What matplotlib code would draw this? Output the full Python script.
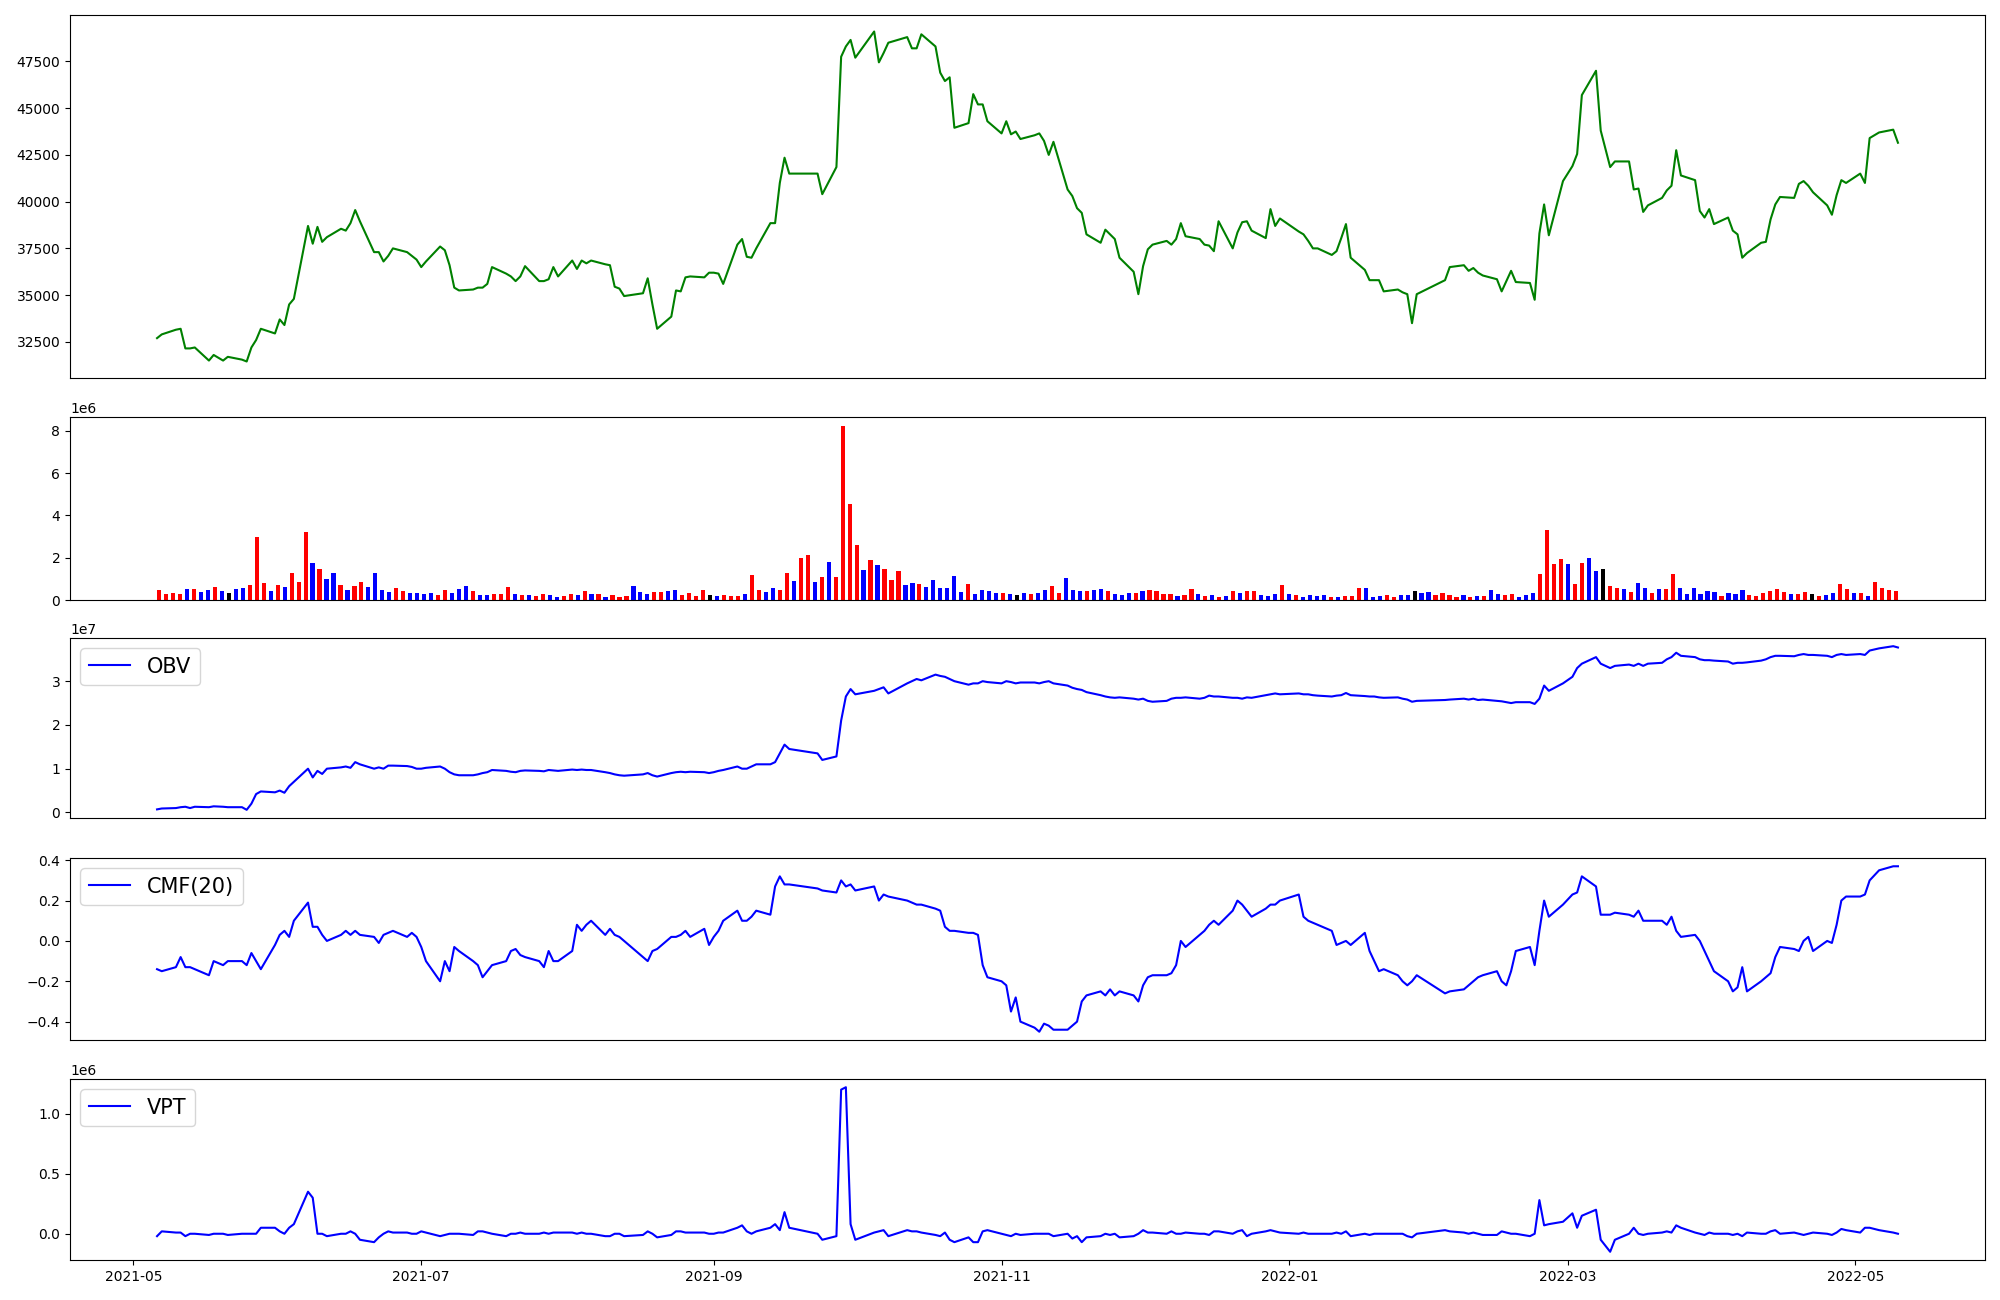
import pandas as pd
import numpy as np
import matplotlib
matplotlib.use('Agg')
import matplotlib.pyplot as plt

# trading days (KRX calendar)
holidays = ['2021-05-19', '2021-08-16', '2021-09-20', '2021-09-21', '2021-09-22',
            '2021-10-04', '2021-10-11', '2021-12-31', '2022-01-31', '2022-02-01',
            '2022-02-02', '2022-03-01', '2022-03-09', '2022-05-05']
dates = pd.bdate_range('2021-05-06', '2022-05-10')
dates = dates[~dates.isin(pd.to_datetime(holidays))]

close = (
    # 2021-05
    [32700, 32900, 33150, 33200, 32150, 32150, 32200, 31500, 31800, 31500, 31700, 31550, 31450, 32200, 32600, 33200, 32950]
    # 2021-06
    + [33700, 33400, 34500, 34800, 38700, 37750, 38650, 37850, 38100, 38550, 38450, 38850, 39550, 38950, 37300, 37300, 36800, 37100, 37500, 37300, 37100, 36900]
    # 2021-07
    + [36500, 36800, 37600, 37400, 36600, 35400, 35250, 35300, 35400, 35400, 35600, 36500, 36150, 36000, 35750, 36000, 36550, 35750, 35750, 35850, 36500, 36000]
    # 2021-08
    + [36850, 36400, 36850, 36700, 36850, 36650, 36600, 35450, 35350, 34950, 35100, 35900, 34500, 33200, 33850, 35250, 35200, 35950, 36000, 35950, 36200]
    # 2021-09
    + [36200, 36150, 35600, 37700, 38000, 37050, 37000, 37500, 38850, 38850, 41000, 42350, 41500, 41500, 40400, 41850, 47750, 48300, 48650]
    # 2021-10
    + [47700, 49100, 47450, 47950, 48500, 48800, 48200, 48200, 48950, 48300, 46900, 46450, 46650, 43950, 44200, 45750, 45200, 45200, 44300]
    # 2021-11
    + [43650, 44300, 43600, 43750, 43350, 43550, 43650, 43250, 42500, 43200, 40650, 40300, 39650, 39400, 38250, 37800, 38500, 38250, 38000, 37000, 36250, 35050]
    # 2021-12
    + [36550, 37450, 37700, 37900, 37700, 38000, 38850, 38150, 38000, 37700, 37650, 37350, 38950, 37500, 38350, 38900, 38950, 38450, 38050, 39600, 38700, 39100]
    # 2022-01
    + [38400, 38250, 37900, 37500, 37500, 37150, 37350, 38050, 38800, 37000, 36350, 35800, 35800, 35800, 35200, 35300, 35150, 35050, 33500, 35050]
    # 2022-02
    + [35800, 36500, 36600, 36300, 36450, 36200, 36050, 35850, 35200, 35750, 36300, 35700, 35650, 34750, 38300, 39850, 38200, 41100]
    # 2022-03
    + [41900, 42550, 45700, 47000, 43800, 41850, 42150, 42150, 40650, 40700, 39450, 39800, 40200, 40600, 40850, 42750, 41400, 41150, 39500, 39150, 39600]
    # 2022-04
    + [38800, 39150, 38450, 38250, 37000, 37250, 37800, 37850, 39050, 39850, 40250, 40200, 40950, 41100, 40850, 40500, 39800, 39300, 40350, 41150, 41000]
    # 2022-05
    + [41500, 41000, 43400, 43700, 43850, 43150]
)

volume = [  # millions of shares
    0.48, 0.29, 0.33, 0.29, 0.52, 0.52, 0.38, 0.48, 0.62, 0.43,
    0.33, 0.52, 0.57, 0.72, 2.96, 0.81, 0.43, 0.72, 0.62, 1.29,
    0.86, 3.20, 1.76, 1.48, 1.00, 1.29, 0.72, 0.48, 0.67, 0.86,
    0.62, 1.29, 0.48, 0.38, 0.57, 0.43, 0.33, 0.33, 0.29, 0.33,
    0.24, 0.48, 0.33, 0.52, 0.67, 0.43, 0.24, 0.24, 0.29, 0.29,
    0.62, 0.29, 0.24, 0.24, 0.19, 0.29, 0.24, 0.14, 0.19, 0.29,
    0.24, 0.43, 0.29, 0.29, 0.14, 0.24, 0.14, 0.19, 0.67, 0.38,
    0.29, 0.38, 0.38, 0.43, 0.48, 0.24, 0.33, 0.19, 0.48, 0.24,
    0.19, 0.24, 0.19, 0.19, 0.29, 1.19, 0.48, 0.38, 0.57, 0.48,
    1.29, 0.91, 2.00, 2.15, 0.86, 1.10, 1.81, 1.10, 8.25, 4.53,
    2.58, 1.43, 1.91, 1.67, 1.48, 0.95, 1.38, 0.72, 0.81, 0.76,
    0.62, 0.95, 0.57, 0.57, 1.14, 0.38, 0.76, 0.29, 0.48, 0.43,
    0.33, 0.33, 0.29, 0.24, 0.33, 0.29, 0.33, 0.48, 0.67, 0.33,
    1.05, 0.48, 0.43, 0.43, 0.48, 0.52, 0.43, 0.29, 0.24, 0.33,
    0.33, 0.43, 0.48, 0.43, 0.29, 0.29, 0.19, 0.24, 0.52, 0.29,
    0.19, 0.24, 0.14, 0.19, 0.43, 0.33, 0.43, 0.43, 0.24, 0.19,
    0.29, 0.72, 0.29, 0.24, 0.14, 0.24, 0.19, 0.24, 0.14, 0.14,
    0.19, 0.19, 0.57, 0.57, 0.14, 0.19, 0.24, 0.14, 0.24, 0.24,
    0.43, 0.33, 0.38, 0.24, 0.33, 0.24, 0.14, 0.24, 0.14, 0.19,
    0.19, 0.48, 0.29, 0.24, 0.29, 0.14, 0.24, 0.33, 1.24, 3.29,
    1.72, 1.96, 1.72, 0.76, 1.76, 2.00, 1.38, 1.48, 0.67, 0.57,
    0.52, 0.38, 0.81, 0.57, 0.33, 0.52, 0.52, 1.24, 0.57, 0.29,
    0.57, 0.29, 0.43, 0.38, 0.19, 0.33, 0.29, 0.48, 0.24, 0.19,
    0.33, 0.43, 0.52, 0.38, 0.29, 0.29, 0.38, 0.29, 0.19, 0.24,
    0.33, 0.76, 0.52, 0.33, 0.33, 0.19, 0.86, 0.57, 0.48, 0.43,
]

# candle direction of each day: r = up, b = down, k = flat
direction = ('rrrrbrbbrb' 'kbbrrrbrbr' 'rrbrbbrbrr' 'bbbbrrbbbb' 'rrbbbrbbrr'
             'rbrbrrbbrr' 'brbrbrrrbb' 'brrbbrrrrk' 'brrrbrrbbr' 'rbrrbrbrrr'
             'rbrbrrrbbr' 'bbbbbbrbbb' 'brbkbrbbrr' 'bbbrbbrbbb' 'rbrrrrbrrb'
             'rbrbrbrrbb' 'brbrbbbbrb' 'rrrbbbrrbb' 'kbbrrrrbrb' 'rbbrrbbbrr'
             'rrbrrbbkrr' 'brbbrbrrbb' 'bbbbrbbbrr' 'rrrrbrrkrb' 'brrbrbrrrr')

obv = (  # x 1e7
    [0.07, 0.09, 0.1, 0.12, 0.13, 0.1, 0.13, 0.12, 0.14, 0.13, 0.12, 0.12, 0.06, 0.2, 0.42, 0.48, 0.46]
    + [0.5, 0.45, 0.6, 0.7, 1.0, 0.8, 0.95, 0.88, 1.0, 1.03, 1.05, 1.02, 1.15, 1.1, 1.0, 1.03, 1.0, 1.07, 1.07, 1.06, 1.04, 1.0]
    + [1.0, 1.02, 1.05, 1.0, 0.92, 0.87, 0.85, 0.85, 0.87, 0.9, 0.92, 0.97, 0.95, 0.93, 0.92, 0.95, 0.96, 0.95, 0.94, 0.97, 0.96, 0.95]
    + [0.98, 0.97, 0.98, 0.97, 0.97, 0.92, 0.9, 0.87, 0.85, 0.84, 0.87, 0.9, 0.85, 0.82, 0.9, 0.92, 0.93, 0.92, 0.93, 0.92, 0.9]
    + [0.92, 0.95, 0.97, 1.05, 1.0, 1.0, 1.05, 1.1, 1.1, 1.15, 1.35, 1.55, 1.45, 1.35, 1.2, 1.28, 2.1, 2.65, 2.82]
    + [2.7, 2.78, 2.82, 2.86, 2.72, 2.95, 3.0, 3.05, 3.02, 3.15, 3.12, 3.1, 3.05, 3.0, 2.92, 2.95, 2.95, 3.0, 2.98]
    + [2.95, 3.0, 2.98, 2.95, 2.97, 2.97, 2.95, 2.98, 3.0, 2.95, 2.9, 2.85, 2.82, 2.8, 2.75, 2.68, 2.65, 2.63, 2.62, 2.63, 2.6, 2.58]
    + [2.6, 2.55, 2.53, 2.55, 2.6, 2.62, 2.62, 2.63, 2.6, 2.62, 2.67, 2.65, 2.65, 2.62, 2.62, 2.6, 2.63, 2.62, 2.68, 2.7, 2.72, 2.7]
    + [2.72, 2.7, 2.7, 2.68, 2.67, 2.65, 2.67, 2.68, 2.73, 2.68, 2.66, 2.65, 2.65, 2.63, 2.62, 2.63, 2.6, 2.58, 2.53, 2.55]
    + [2.57, 2.58, 2.6, 2.58, 2.6, 2.57, 2.58, 2.55, 2.54, 2.52, 2.5, 2.52, 2.52, 2.48, 2.6, 2.9, 2.78, 2.95]
    + [3.1, 3.3, 3.4, 3.55, 3.4, 3.3, 3.35, 3.38, 3.35, 3.4, 3.35, 3.4, 3.42, 3.5, 3.55, 3.65, 3.58, 3.55, 3.5, 3.48, 3.48]
    + [3.47, 3.45, 3.4, 3.42, 3.42, 3.43, 3.47, 3.5, 3.55, 3.58, 3.58, 3.57, 3.6, 3.62, 3.6, 3.6, 3.58, 3.55, 3.6, 3.62, 3.6]
    + [3.62, 3.6, 3.7, 3.75, 3.8, 3.77]
)

cmf = (
    [-0.14, -0.15, -0.13, -0.08, -0.13, -0.13, -0.14, -0.17, -0.10, -0.12, -0.10, -0.10, -0.12, -0.06, -0.10, -0.14, -0.02]
    + [0.03, 0.05, 0.02, 0.10, 0.19, 0.07, 0.07, 0.03, 0.0, 0.03, 0.05, 0.03, 0.05, 0.03, 0.02, -0.01, 0.03, 0.04, 0.05, 0.02, 0.04, 0.02]
    + [-0.03, -0.1, -0.2, -0.1, -0.15, -0.03, -0.05, -0.1, -0.12, -0.18, -0.15, -0.12, -0.1, -0.05, -0.04, -0.07, -0.08, -0.1, -0.13, -0.05, -0.1, -0.1]
    + [-0.05, 0.08, 0.05, 0.08, 0.1, 0.03, 0.06, 0.03, 0.02, 0.0, -0.08, -0.1, -0.05, -0.04, 0.02, 0.02, 0.03, 0.05, 0.02, 0.06, -0.02]
    + [0.02, 0.05, 0.1, 0.15, 0.1, 0.1, 0.12, 0.15, 0.13, 0.27, 0.32, 0.28, 0.28, 0.26, 0.25, 0.24, 0.3, 0.27, 0.28]
    + [0.25, 0.27, 0.2, 0.23, 0.22, 0.2, 0.19, 0.18, 0.18, 0.16, 0.15, 0.07, 0.05, 0.05, 0.04, 0.04, 0.03, -0.12, -0.18]
    + [-0.2, -0.22, -0.35, -0.28, -0.4, -0.43, -0.45, -0.41, -0.42, -0.44, -0.44, -0.42, -0.4, -0.3, -0.27, -0.25, -0.27, -0.24, -0.27, -0.25, -0.27, -0.3]
    + [-0.22, -0.18, -0.17, -0.17, -0.16, -0.12, 0.0, -0.03, 0.03, 0.05, 0.08, 0.1, 0.08, 0.15, 0.2, 0.18, 0.15, 0.12, 0.16, 0.18, 0.18, 0.2]
    + [0.23, 0.12, 0.1, 0.09, 0.08, 0.05, -0.02, -0.01, 0.0, -0.02, 0.04, -0.05, -0.1, -0.15, -0.14, -0.17, -0.2, -0.22, -0.2, -0.17]
    + [-0.26, -0.25, -0.24, -0.22, -0.2, -0.18, -0.17, -0.15, -0.2, -0.22, -0.15, -0.05, -0.03, -0.12, 0.05, 0.2, 0.12, 0.18]
    + [0.23, 0.24, 0.32, 0.27, 0.13, 0.13, 0.14, 0.13, 0.12, 0.15, 0.1, 0.1, 0.1, 0.08, 0.12, 0.05, 0.02, 0.03, 0.0, -0.05, -0.1]
    + [-0.15, -0.2, -0.25, -0.23, -0.13, -0.25, -0.2, -0.18, -0.16, -0.08, -0.03, -0.04, -0.05, 0.0, 0.02, -0.05, 0.0, -0.01, 0.08, 0.2, 0.22]
    + [0.22, 0.23, 0.3, 0.35, 0.37, 0.37]
)

vpt = (  # x 1e6
    [-0.02, 0.02, 0.01, 0.01, -0.02, 0.0, 0.0, -0.01, 0.0, 0.0, -0.01, 0.0, 0.0, 0.0, 0.0, 0.05, 0.05]
    + [0.02, 0.0, 0.05, 0.08, 0.35, 0.3, 0.0, 0.0, -0.02, 0.0, 0.0, 0.02, 0.0, -0.05, -0.07, -0.03, 0.0, 0.02, 0.01, 0.01, 0.0, 0.0]
    + [0.02, 0.01, -0.02, -0.01, 0.0, 0.0, 0.0, -0.01, 0.02, 0.02, 0.01, 0.0, -0.02, 0.0, 0.0, 0.01, 0.0, 0.0, 0.01, 0.0, 0.01, 0.01]
    + [0.01, 0.0, 0.01, 0.0, 0.0, -0.02, -0.02, 0.0, 0.0, -0.02, -0.01, 0.02, 0.0, -0.03, -0.01, 0.02, 0.02, 0.01, 0.01, 0.01, 0.0]
    + [0.0, 0.01, 0.01, 0.05, 0.07, 0.02, 0.0, 0.02, 0.05, 0.08, 0.03, 0.18, 0.05, 0.0, -0.05, -0.02, 1.2, 1.22, 0.08]
    + [-0.05, 0.01, 0.02, 0.03, -0.02, 0.03, 0.02, 0.02, 0.01, -0.01, -0.02, 0.01, -0.05, -0.07, -0.03, -0.07, -0.07, 0.02, 0.03]
    + [0.0, -0.01, -0.02, 0.0, -0.01, 0.0, 0.0, 0.0, 0.0, -0.02, 0.0, -0.04, -0.02, -0.07, -0.03, -0.02, 0.0, -0.01, 0.0, -0.03, -0.02, 0.0]
    + [0.03, 0.01, 0.01, 0.0, 0.02, 0.0, 0.0, 0.01, 0.0, 0.0, -0.01, 0.02, 0.02, 0.0, 0.02, 0.03, -0.02, 0.0, 0.02, 0.03, 0.02, 0.01]
    + [0.0, 0.01, 0.0, 0.0, 0.0, 0.0, 0.01, 0.0, 0.02, -0.02, 0.0, -0.01, 0.0, 0.0, 0.0, 0.0, 0.0, -0.02, -0.03, 0.0]
    + [0.03, 0.02, 0.01, 0.0, 0.01, 0.0, -0.01, -0.01, 0.02, 0.01, 0.0, 0.0, -0.02, 0.0, 0.28, 0.07, 0.08, 0.1]
    + [0.17, 0.05, 0.15, 0.2, -0.05, -0.15, -0.05, 0.0, 0.05, 0.0, -0.01, 0.0, 0.01, 0.02, 0.01, 0.07, 0.05, 0.01, 0.0, -0.01, 0.01]
    + [0.0, 0.0, -0.01, 0.0, -0.02, 0.01, 0.0, 0.0, 0.02, 0.03, 0.0, 0.01, 0.0, -0.01, 0.0, 0.01, 0.0, -0.01, 0.01, 0.04, 0.03]
    + [0.01, 0.05, 0.05, 0.03, 0.01, 0.0]
)

df = pd.DataFrame({'close': close, 'volume': np.array(volume) * 1e6,
                   'obv': np.array(obv) * 1e7, 'cmf': cmf,
                   'vpt': np.array(vpt) * 1e6}, index=dates)
bar_colors = [{'r': 'red', 'b': 'blue', 'k': 'black'}[c] for c in direction]

fig = plt.figure(figsize=(20, 13), dpi=100)
W, H = 2000, 1300
def rect(top, bottom):
    return [70 / W, 1 - bottom / H, 1915 / W, (bottom - top) / H]

ax1 = fig.add_axes(rect(15, 378))
ax2 = fig.add_axes(rect(417, 600))
ax3 = fig.add_axes(rect(638, 818), sharex=ax1)
ax4 = fig.add_axes(rect(858, 1040), sharex=ax1)
ax5 = fig.add_axes(rect(1079, 1260), sharex=ax1)

ax1.plot(df.index, df.close, color='g')

ax2.bar(np.arange(len(df)), df.volume, color=bar_colors, width=0.6)
ax2.set_xticks([])

ax3.plot(df.index, df.obv, color='b', label='OBV')
ax3.legend(loc='upper left', fontsize=15)

ax4.plot(df.index, df.cmf, color='b', label='CMF(20)')
ax4.legend(loc='upper left', fontsize=15)

ax5.plot(df.index, df.vpt, color='b', label='VPT')
ax5.legend(loc='upper left', fontsize=15)

for ax in (ax1, ax3, ax4):
    ax.tick_params(axis='x', bottom=False, labelbottom=False)

fig.savefig('out.png')
